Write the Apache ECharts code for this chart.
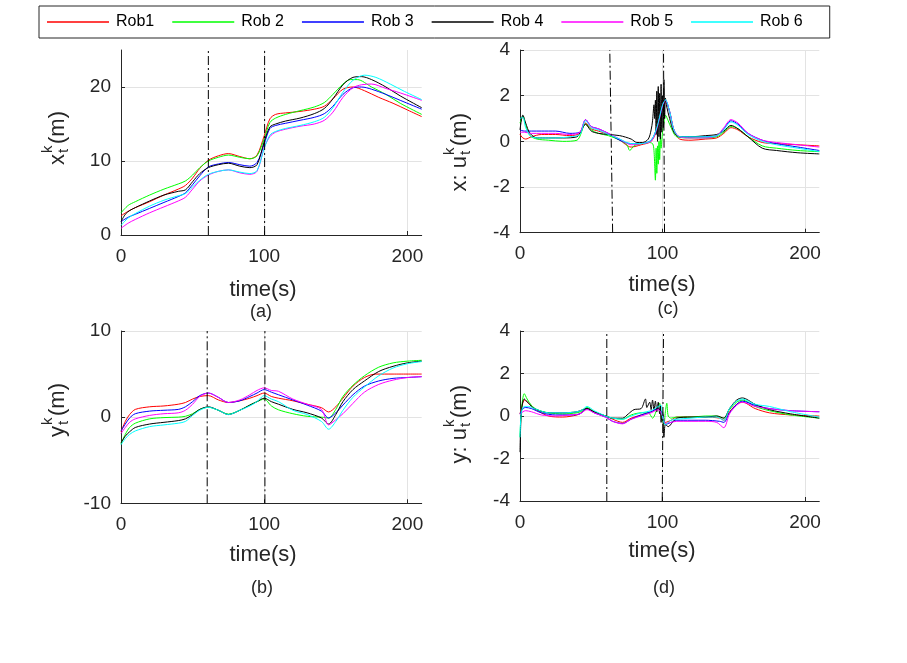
<!DOCTYPE html>
<html>
<head>
<meta charset="utf-8">
<script src="https://cdn.jsdelivr.net/npm/echarts@6/dist/echarts.min.js"></script>
<style>
html,body{margin:0;padding:0;background:#fff;}
#chart{width:907px;height:663px;}
</style>
</head>
<body>
<div id="chart"></div>
<script>
// ---------- data ----------
const robNames = ['Rob1', 'Rob 2', 'Rob 3', 'Rob 4', 'Rob 5', 'Rob 6'];
const robColors = ['#ff0000', '#00ff00', '#0000ff', '#000000', '#ff00ff', '#00ffff'];

const xTicks = [0, 100, 200];

// (a) x position
const xRob1 = [[0,2.6],[5,3.2],[10,3.7],[20,4.5],[30,5.4],[40,6.2],[45,6.7],[50,7.7],[55,9.0],[61,10.1],[68,10.7],[75,11.0],[83,10.6],[90,10.3],[95,10.8],[100,13.4],[104,15.7],[108,16.3],[115,16.5],[125,16.7],[135,17.0],[142,17.4],[148,18.4],[155,19.7],[162,20.0],[170,19.5],[180,18.6],[190,17.8],[200,16.9],[210,16.0]];
const xRob2 = [[0,3.0],[5,4.0],[10,4.5],[20,5.4],[30,6.2],[40,6.9],[45,7.3],[50,8.1],[55,9.1],[61,10.0],[68,10.5],[75,10.8],[83,10.5],[90,10.3],[95,10.7],[100,13.0],[104,15.2],[108,15.8],[115,16.3],[125,16.8],[135,17.3],[142,17.9],[148,19.0],[155,20.4],[160,21.0],[165,21.0],[175,20.0],[185,19.0],[195,17.8],[210,16.3]];
const xRob3 = [[0,1.8],[5,2.4],[10,2.8],[20,3.6],[30,4.4],[40,5.2],[45,5.7],[50,6.8],[55,8.0],[61,9.2],[68,9.6],[75,9.8],[83,9.5],[90,9.3],[95,9.8],[100,12.3],[104,14.4],[108,14.8],[115,15.1],[125,15.5],[135,15.9],[142,16.4],[148,17.4],[155,19.0],[162,19.9],[168,20.0],[175,19.7],[185,19.0],[195,18.2],[210,17.0]];
const xRob4 = [[0,1.8],[3,2.8],[6,3.3],[10,3.7],[20,4.6],[30,5.4],[40,5.9],[45,6.1],[50,7.2],[55,8.3],[61,9.1],[68,9.5],[75,9.7],[83,9.3],[90,9.1],[95,9.5],[100,12.6],[104,14.6],[108,15.0],[115,15.4],[125,15.8],[135,16.4],[142,17.1],[148,18.4],[155,20.3],[162,21.3],[168,21.4],[175,21.0],[185,20.0],[195,18.8],[210,17.2]];
const xRob5 = [[0,0.9],[5,1.6],[10,2.1],[20,3.0],[30,3.8],[40,4.6],[45,5.1],[50,6.2],[55,7.3],[61,8.1],[68,8.6],[75,8.8],[83,8.4],[90,8.2],[95,8.6],[100,11.8],[104,13.3],[108,13.9],[115,14.3],[125,14.7],[135,15.0],[142,15.5],[148,16.6],[155,18.6],[162,19.9],[168,20.3],[175,20.4],[185,19.8],[195,19.2],[210,18.2]];
const xRob6 = [[0,1.3],[5,2.3],[10,2.9],[20,3.9],[30,4.7],[40,5.3],[45,5.6],[50,6.5],[55,7.4],[61,8.2],[68,8.6],[75,8.8],[83,8.5],[90,8.3],[95,8.7],[100,11.7],[104,13.5],[108,14.0],[115,14.4],[125,14.8],[135,15.3],[142,15.9],[148,17.2],[155,19.3],[162,20.9],[170,21.6],[178,21.3],[188,20.4],[198,19.4],[210,18.3]];

// (b) y position
const yRob1 = [[0,-1.7],[3,-0.5],[6,0.3],[10,0.9],[20,1.2],[30,1.3],[40,1.5],[45,1.7],[50,2.1],[55,2.4],[61,2.5],[68,2.0],[75,1.7],[83,1.9],[90,2.2],[95,2.5],[100,2.8],[105,2.4],[110,2.2],[120,1.9],[130,1.5],[140,1.1],[145,0.6],[150,1.2],[155,2.2],[162,3.6],[170,4.6],[178,5.0],[190,5.0],[210,5.0]];
const yRob2 = [[0,-3.1],[3,-2.0],[6,-1.2],[10,-0.7],[20,-0.2],[30,-0.05],[40,0.0],[45,0.1],[50,0.4],[55,0.9],[61,1.15],[68,0.8],[75,0.35],[83,0.8],[90,1.4],[95,1.8],[100,2.1],[105,1.3],[110,0.85],[120,0.4],[130,0.1],[140,0.0],[145,-0.1],[150,0.9],[155,2.4],[162,3.7],[170,4.8],[180,5.8],[190,6.3],[200,6.5],[210,6.6]];
const yRob3 = [[0,-1.6],[3,-0.8],[6,-0.1],[10,0.4],[20,0.7],[30,0.8],[40,0.9],[45,1.2],[50,1.8],[55,2.5],[61,2.8],[68,2.3],[75,1.7],[83,1.9],[90,2.4],[95,2.8],[100,3.2],[105,2.9],[110,2.6],[120,2.0],[130,1.4],[140,0.7],[145,-0.1],[150,0.5],[155,1.4],[162,2.6],[170,3.6],[180,4.2],[190,4.5],[200,4.6],[210,4.7]];
const yRob4 = [[0,-3.0],[3,-2.2],[6,-1.7],[10,-1.2],[20,-0.8],[30,-0.6],[40,-0.4],[45,-0.2],[50,0.3],[55,0.9],[61,1.2],[68,0.8],[75,0.3],[83,0.8],[90,1.4],[95,1.8],[100,2.2],[105,1.8],[110,1.5],[120,0.9],[130,0.5],[140,-0.1],[145,-0.8],[150,0.3],[155,1.8],[162,3.2],[170,4.2],[180,5.3],[190,5.9],[200,6.3],[210,6.5]];
const yRob5 = [[0,-1.9],[3,-1.2],[6,-0.6],[10,-0.2],[20,0.2],[30,0.4],[40,0.5],[45,0.8],[50,1.5],[55,2.4],[61,2.8],[68,2.3],[75,1.7],[83,2.0],[90,2.6],[95,3.1],[100,3.4],[105,3.1],[110,3.0],[120,2.1],[130,1.5],[140,0.9],[145,-0.9],[150,-0.3],[155,0.4],[162,1.6],[170,2.9],[180,3.8],[190,4.3],[200,4.6],[210,4.7]];
const yRob6 = [[0,-3.2],[3,-2.5],[6,-2.0],[10,-1.6],[20,-1.1],[30,-0.9],[40,-0.7],[45,-0.5],[50,0.2],[55,0.8],[61,1.15],[68,0.8],[75,0.3],[83,0.8],[90,1.3],[95,1.8],[100,2.5],[105,2.1],[110,1.8],[120,0.8],[130,0.3],[140,-0.5],[145,-1.4],[150,-0.5],[155,0.8],[162,2.3],[170,3.5],[180,4.8],[190,5.7],[200,6.2],[210,6.45]];

// (c) x control input
const uxRob1 = [[0,0.3],[2,0.15],[4,0.1],[8,0.2],[15,0.3],[25,0.3],[35,0.25],[42,0.35],[46,0.8],[50,0.55],[55,0.45],[62,0.3],[70,0.05],[78,-0.25],[85,-0.15],[92,0.0],[96,0.5],[100,1.5],[102,1.75],[105,1.3],[108,0.5],[112,0.1],[120,0.05],[130,0.1],[138,0.15],[143,0.35],[148,0.6],[153,0.5],[160,0.2],[170,-0.05],[180,-0.1],[195,-0.15],[210,-0.2]];
const uxRob2 = [[0,0.8],[2,1.1],[4,0.7],[7,0.25],[12,0.1],[20,0.05],[30,0.0],[40,0.05],[46,0.75],[50,0.5],[55,0.35],[62,0.25],[70,0.05],[75,-0.15],[77,-0.4],[80,-0.2],[85,-0.1],[90,-0.05],[93,-0.1],[94,-0.4],[95,-1.7],[95.5,-0.3],[96,-1.4],[96.5,-0.2],[97,-1.0],[97.5,0.0],[98,-0.8],[98.5,0.2],[99,-0.3],[100,0.4],[101,0.8],[102,1.15],[104,0.9],[106,0.6],[110,0.2],[120,0.15],[130,0.15],[138,0.2],[143,0.4],[148,0.65],[153,0.55],[160,0.2],[170,-0.2],[180,-0.3],[195,-0.4],[210,-0.45]];
const uxRob3 = [[0,0.5],[3,0.45],[8,0.45],[15,0.45],[25,0.45],[35,0.35],[42,0.4],[46,0.95],[50,0.65],[55,0.55],[62,0.35],[70,0.05],[78,-0.1],[85,-0.1],[92,0.05],[96,0.6],[100,1.6],[102,1.8],[105,1.3],[108,0.5],[112,0.2],[120,0.2],[130,0.2],[138,0.25],[143,0.55],[148,0.9],[153,0.75],[160,0.35],[170,0.05],[180,-0.1],[195,-0.25],[210,-0.4]];
const uxRob4 = [[0,0.5],[2,1.15],[4,0.8],[7,0.35],[12,0.15],[20,0.15],[30,0.15],[40,0.2],[46,0.75],[50,0.45],[55,0.35],[62,0.3],[70,0.25],[78,0.1],[82,-0.05],[86,-0.05],[90,0.1],[92,0.5],[93,0.9],[94,1.6],[94.5,1.0],[95,1.8],[95.5,0.3],[96,2.2],[96.5,0.0],[97,2.4],[97.5,0.2],[98,2.1],[98.5,0.1],[99,2.5],[99.5,0.4],[100,2.0],[100.5,0.6],[101,2.7],[101.5,1.0],[102,1.9],[103,1.5],[105,1.0],[108,0.4],[112,0.2],[120,0.2],[130,0.25],[138,0.3],[143,0.45],[148,0.7],[153,0.55],[160,0.2],[170,-0.3],[180,-0.4],[195,-0.5],[210,-0.55]];
const uxRob5 = [[0,0.4],[3,0.4],[8,0.35],[15,0.35],[25,0.35],[35,0.3],[42,0.4],[46,0.95],[50,0.65],[55,0.55],[62,0.35],[70,0.1],[78,-0.15],[85,-0.1],[92,0.0],[96,0.55],[100,1.55],[102,1.8],[105,1.3],[108,0.5],[112,0.2],[120,0.15],[130,0.15],[138,0.25],[143,0.6],[148,0.95],[153,0.8],[160,0.35],[170,0.05],[180,-0.05],[195,-0.15],[210,-0.25]];
const uxRob6 = [[0,1.0],[2,1.05],[4,0.6],[8,0.2],[15,0.15],[25,0.15],[35,0.2],[42,0.3],[46,0.9],[50,0.6],[55,0.5],[62,0.3],[70,0.1],[78,-0.1],[85,-0.1],[92,0.05],[96,0.6],[100,1.6],[102,1.83],[105,1.3],[108,0.5],[112,0.2],[120,0.2],[130,0.2],[138,0.25],[143,0.5],[148,0.85],[153,0.7],[160,0.3],[170,0.0],[180,-0.15],[195,-0.3],[210,-0.45]];

// (d) y control input
const uyRob1 = [[0,0.1],[1.5,0.5],[3,0.75],[6,0.6],[10,0.35],[20,0.0],[30,-0.05],[40,0.05],[44,0.2],[47,0.35],[52,0.2],[60,0.0],[65,-0.15],[72,-0.3],[78,-0.1],[85,0.05],[92,0.2],[97,0.35],[100,0.1],[102,-0.3],[106,-0.2],[110,-0.05],[120,-0.05],[130,-0.05],[140,-0.1],[143,-0.2],[147,0.2],[152,0.55],[156,0.65],[165,0.35],[175,0.15],[190,0.05],[210,0.0]];
const uyRob2 = [[0,-1.0],[1,0.3],[3,1.05],[5,0.8],[8,0.5],[12,0.3],[20,0.15],[30,0.1],[40,0.15],[44,0.25],[47,0.4],[52,0.2],[60,0.0],[65,-0.1],[72,-0.15],[78,0.05],[85,0.15],[90,0.15],[93,-0.1],[96,0.3],[98,0.6],[99,0.1],[100,-0.2],[101,-0.4],[102,0.2],[103,0.6],[104,0.0],[106,-0.1],[110,-0.05],[120,-0.05],[130,0.0],[138,0.0],[143,-0.1],[147,0.3],[152,0.65],[156,0.75],[165,0.45],[175,0.25],[190,0.05],[210,-0.1]];
const uyRob3 = [[0,0.1],[2,0.35],[4,0.4],[8,0.35],[15,0.15],[25,0.05],[35,0.05],[42,0.1],[47,0.35],[52,0.15],[60,-0.05],[65,-0.25],[72,-0.35],[78,-0.15],[85,0.05],[92,0.2],[97,0.35],[100,0.1],[102,-0.4],[106,-0.3],[110,-0.2],[120,-0.2],[130,-0.2],[140,-0.25],[143,-0.3],[147,0.15],[152,0.55],[156,0.7],[165,0.5],[175,0.35],[190,0.25],[210,0.2]];
const uyRob4 = [[0,-1.7],[1,0.2],[3,0.8],[6,0.6],[10,0.35],[20,0.15],[30,0.15],[40,0.2],[44,0.3],[47,0.35],[52,0.2],[60,0.0],[65,-0.1],[72,-0.1],[76,0.1],[80,0.3],[85,0.35],[88,0.8],[89,0.4],[91,0.65],[92,0.3],[93,0.75],[94,0.3],[95,0.7],[96,0.2],[97,0.65],[98,0.1],[98.5,0.5],[99,-0.3],[100,0.2],[101,-1.0],[102,-0.4],[104,-0.5],[107,-0.3],[110,-0.1],[120,-0.05],[130,-0.05],[138,0.0],[143,-0.1],[147,0.35],[152,0.75],[156,0.85],[165,0.55],[175,0.3],[190,0.1],[210,-0.1]];
const uyRob5 = [[0,0.05],[2,0.2],[4,0.25],[8,0.2],[15,0.05],[25,0.0],[35,0.05],[42,0.1],[47,0.3],[52,0.15],[60,-0.05],[65,-0.25],[72,-0.37],[78,-0.15],[85,0.0],[92,0.15],[97,0.3],[100,0.0],[102,-0.35],[106,-0.3],[110,-0.25],[120,-0.25],[130,-0.25],[138,-0.3],[143,-0.55],[147,0.1],[152,0.5],[156,0.65],[165,0.45],[175,0.35],[190,0.25],[210,0.2]];
const uyRob6 = [[0,-1.0],[1,0.2],[3,0.45],[6,0.45],[10,0.35],[20,0.15],[30,0.15],[40,0.2],[44,0.3],[47,0.45],[52,0.25],[60,0.0],[65,-0.1],[72,-0.15],[78,0.0],[85,0.15],[92,0.25],[97,0.45],[99,0.5],[100,0.0],[102,-0.4],[106,-0.2],[110,-0.15],[120,-0.1],[130,-0.05],[138,-0.05],[143,-0.2],[147,0.35],[152,0.7],[156,0.8],[165,0.55],[175,0.45],[190,0.2],[210,-0.05]];

// dash-dot marker lines (start / end points)
const markA = [[[61,0],[61,25]], [[100.3,0],[100.3,25]]];
const markB = [[[60.2,-10],[60.2,10]], [[100.5,-10],[100.5,10]]];
const markC = [[[65,-4],[63,4]], [[101.4,-4],[100.7,4]]];
const markD = [[[60.9,-4],[60.9,4]], [[99.8,-4],[100.7,4]]];

// ---------- chart ----------
const FONT = "'Liberation Sans', Arial, Helvetica, sans-serif";
const TXT = '#262626';
const chart = echarts.init(document.getElementById('chart'), null, {renderer: 'canvas'});

const grids = [
  {left: 121, top: 50, width: 300.7, height: 185},
  {left: 121, top: 331, width: 300.7, height: 172.3},
  {left: 520, top: 50, width: 299.3, height: 182.7},
  {left: 520, top: 331, width: 299.3, height: 170}
];
const yRanges = [[0, 25, 10], [-10, 10, 10], [-4, 4, 2], [-4, 4, 2]];
const dataSets = [
  [xRob1, xRob2, xRob3, xRob4, xRob5, xRob6],
  [yRob1, yRob2, yRob3, yRob4, yRob5, yRob6],
  [uxRob1, uxRob2, uxRob3, uxRob4, uxRob5, uxRob6],
  [uyRob1, uyRob2, uyRob3, uyRob4, uyRob5, uyRob6]
];
const marks = [markA, markB, markC, markD];

const xAxes = grids.map((g, i) => ({
  type: 'value', gridIndex: i, min: 0, max: 210, interval: 100,
  axisLine: {show: true, onZero: false, lineStyle: {color: TXT, width: 1}},
  axisTick: {show: true, inside: true, length: 4, lineStyle: {color: TXT}},
  axisLabel: {color: TXT, fontSize: 19, fontFamily: FONT, margin: 12, showMaxLabel: false},
  splitLine: {show: true, showMinLine: false, showMaxLine: false, lineStyle: {color: '#e3e3e3', width: 1}}
}));
const yAxes = grids.map((g, i) => ({
  type: 'value', gridIndex: i, min: yRanges[i][0], max: yRanges[i][1], interval: yRanges[i][2],
  axisLine: {show: true, onZero: false, lineStyle: {color: TXT, width: 1}},
  axisTick: {show: true, inside: true, length: 4, lineStyle: {color: TXT}},
  axisLabel: {color: TXT, fontSize: 19, fontFamily: FONT, margin: 10, showMaxLabel: i !== 0},
  splitLine: {show: true, showMinLine: false, showMaxLine: i !== 0, lineStyle: {color: '#e3e3e3', width: 1}}
}));

const series = [];
dataSets.forEach((set, gi) => {
  set.forEach((d, k) => {
    series.push({
      name: robNames[k], type: 'line', xAxisIndex: gi, yAxisIndex: gi,
      data: d, symbol: 'none', smooth: 0.3, animation: false,
      lineStyle: {color: robColors[k], width: 1}, itemStyle: {color: robColors[k]}
    });
  });
  marks[gi].forEach(m => {
    series.push({
      type: 'line', xAxisIndex: gi, yAxisIndex: gi, data: m, symbol: 'none',
      animation: false, silent: true,
      lineStyle: {color: '#000', width: 1, type: [9, 3, 2, 3]}
    });
  });
});

function yLabel(cx, cy, pre, sub, sup, post) {
  // rotated group: local x reads upward
  const big = 22, small = 15;
  return {
    type: 'group', x: cx, y: cy, rotation: Math.PI / 2,
    children: [
      {type: 'text', style: {text: pre, font: big + 'px ' + FONT, fill: TXT, textAlign: 'right', textVerticalAlign: 'middle'}, x: -6, y: 0},
      {type: 'text', style: {text: sup, font: small + 'px ' + FONT, fill: TXT, textAlign: 'left', textVerticalAlign: 'middle'}, x: -5, y: -10},
      {type: 'text', style: {text: sub, font: small + 'px ' + FONT, fill: TXT, textAlign: 'left', textVerticalAlign: 'middle'}, x: -5, y: 6},
      {type: 'text', style: {text: post, font: big + 'px ' + FONT, fill: TXT, textAlign: 'left', textVerticalAlign: 'middle'}, x: 4, y: 0}
    ]
  };
}
function plainText(cx, cy, txt, size) {
  return {type: 'text', x: cx, y: cy, style: {text: txt, font: size + 'px ' + FONT, fill: TXT, textAlign: 'center', textVerticalAlign: 'middle'}};
}

const option = {
  backgroundColor: '#fff',
  animation: false,
  legend: {
    data: robNames, left: 39, top: 6, orient: 'horizontal',
    padding: [8, 27, 8, 8], itemGap: 18, itemWidth: 62, itemHeight: 1.5,
    icon: 'rect',
    borderColor: TXT, borderWidth: 1,
    textStyle: {fontSize: 16, fontFamily: FONT, color: '#000', padding: [0, 0, 0, 2]}
  },
  grid: grids.map(g => Object.assign({containLabel: false}, g)),
  xAxis: xAxes,
  yAxis: yAxes,
  series: series,
  graphic: [
    yLabel(58, 148, 'x', 't', 'k', '(m)'),
    yLabel(58, 420, 'y', 't', 'k', '(m)'),
    yLabel(460, 150, 'x: u', 't', 'k', '(m)'),
    yLabel(460, 422, 'y: u', 't', 'k', '(m)'),
    plainText(263, 290, 'time(s)', 22),
    plainText(261, 312, '(a)', 18),
    plainText(662, 285, 'time(s)', 22),
    plainText(668, 309, '(c)', 18),
    plainText(263, 555, 'time(s)', 22),
    plainText(262, 588, '(b)', 18),
    plainText(662, 551, 'time(s)', 22),
    plainText(664, 588, '(d)', 18)
  ]
};
chart.setOption(option);
</script>
</body>
</html>
